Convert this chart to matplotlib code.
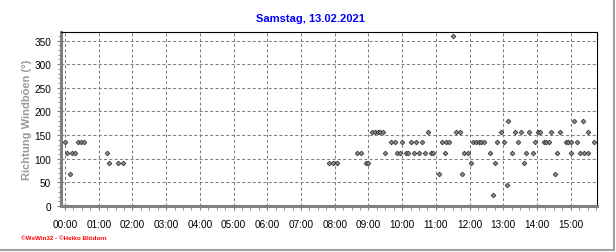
import numpy as np
import matplotlib
matplotlib.use("Agg")
import matplotlib.pyplot as plt
from matplotlib.lines import Line2D
from matplotlib.ticker import MultipleLocator, FixedLocator

# Zeit in Stunden, Richtung der Windböen in Grad
stunden = [0.00, 0.07, 0.16, 0.21, 0.31, 0.39, 0.48, 0.57,
           1.24, 1.31, 1.58, 1.73,
           7.84, 7.96, 8.07, 8.67, 8.78, 8.92, 9.00,
           9.12, 9.19, 9.27, 9.34, 9.42, 9.50, 9.68, 9.78, 9.86, 9.93,
           10.00, 10.11, 10.18, 10.27, 10.36, 10.42, 10.50, 10.59, 10.68, 10.77, 10.86, 10.92,
           11.10, 11.19, 11.27, 11.30, 11.40, 11.51, 11.61, 11.73, 11.78, 11.83, 11.95,
           12.03, 12.10, 12.18, 12.27, 12.35, 12.43, 12.60, 12.70, 12.76, 12.82, 12.94,
           13.02, 13.12, 13.15, 13.25, 13.36, 13.43, 13.52, 13.61, 13.67, 13.77, 13.87, 13.93,
           14.04, 14.08, 14.21, 14.28, 14.36, 14.43, 14.53, 14.58, 14.68, 14.85, 14.93, 15.00,
           15.02, 15.09, 15.20, 15.27, 15.37, 15.40, 15.50, 15.52, 15.68]
richtung = [135, 112.5, 67.5, 112.5, 112.5, 135, 135, 135,
            112.5, 90, 90, 90,
            90, 90, 90, 112.5, 112.5, 90, 90,
            157.5, 157.5, 157.5, 157.5, 157.5, 112.5, 135, 135, 112.5, 112.5,
            135, 112.5, 112.5, 135, 112.5, 135, 112.5, 135, 112.5, 157.5, 112.5, 112.5,
            67.5, 135, 112.5, 135, 135, 360, 157.5, 157.5, 67.5, 112.5, 112.5,
            90, 135, 135, 135, 135, 135, 112.5, 22.5, 90, 135, 157.5,
            135, 45, 180, 112.5, 157.5, 135, 157.5, 90, 112.5, 157.5, 112.5, 135,
            157.5, 157.5, 135, 135, 135, 157.5, 67.5, 112.5, 157.5, 135, 135, 135,
            112.5, 180, 135, 112.5, 180, 112.5, 157.5, 112.5, 135]

x_ticks = list(range(16))
x_labels = [f"{h:02d}:00" for h in x_ticks]
y_ticks = list(range(0, 351, 50))

plt.rcParams['font.family'] = ['Liberation Sans', 'DejaVu Sans']

fig = plt.figure(figsize=(6.16, 2.53), dpi=100)
ax = fig.add_axes([61/616, 1-207/253, 536/616, 174/253])

ax.plot(stunden, richtung, linestyle='none', marker='D', markersize=2.4,
        markerfacecolor='#8c8c8c', markeredgecolor='#303030', markeredgewidth=0.55,
        zorder=3, clip_on=False)

ax.set_xlim(-0.12, 15.78)
ax.set_ylim(0, 368)

ax.xaxis.set_major_locator(FixedLocator(x_ticks))
ax.set_xticklabels(x_labels)
ax.xaxis.set_minor_locator(MultipleLocator(0.25))
ax.yaxis.set_major_locator(FixedLocator(y_ticks))
ax.yaxis.set_minor_locator(MultipleLocator(10))

ax.tick_params(axis='both', which='both', color='#808080', labelsize=7.2, labelcolor='black')
ax.tick_params(axis='x', which='major', length=3, pad=6)
ax.tick_params(axis='x', which='minor', length=3)
ax.tick_params(axis='y', which='major', length=3, pad=4)
ax.tick_params(axis='y', which='minor', length=2)

ax.grid(True, which='major', color='#808080', linestyle=(0, (2.9, 2.2)), linewidth=0.75)

for s in ['left', 'bottom']:
    ax.spines[s].set_color('#808080')
    ax.spines[s].set_linewidth(2.2)
for s in ['top', 'right']:
    ax.spines[s].set_color('black')
    ax.spines[s].set_linewidth(0.8)

fig.text(310/616, 1-19/253, "Samstag, 13.02.2021", color='#0000ff', fontsize=8,
         fontweight='bold', ha='center', va='center')
fig.text(27/616, 1-120/253, "Richtung Windböen (°)", color='#999999', fontsize=8,
         fontweight='bold', rotation=90, ha='center', va='center')
fig.text(21/616, 1-239/253, "©WsWin32 - ©Heiko Blödorn", color='#ff0000', fontsize=4.5,
         fontweight='bold', ha='left', va='center')

# grauer Rahmen rechts und unten
fig.add_artist(Line2D([613.5/616, 613.5/616], [1-251/253, 1.0], color='#a0a0a0', linewidth=1.5))
fig.add_artist(Line2D([0, 613.5/616], [1-251/253, 1-251/253], color='#a0a0a0', linewidth=1.5))

plt.savefig("out.png", dpi=100)
plt.close(fig)
